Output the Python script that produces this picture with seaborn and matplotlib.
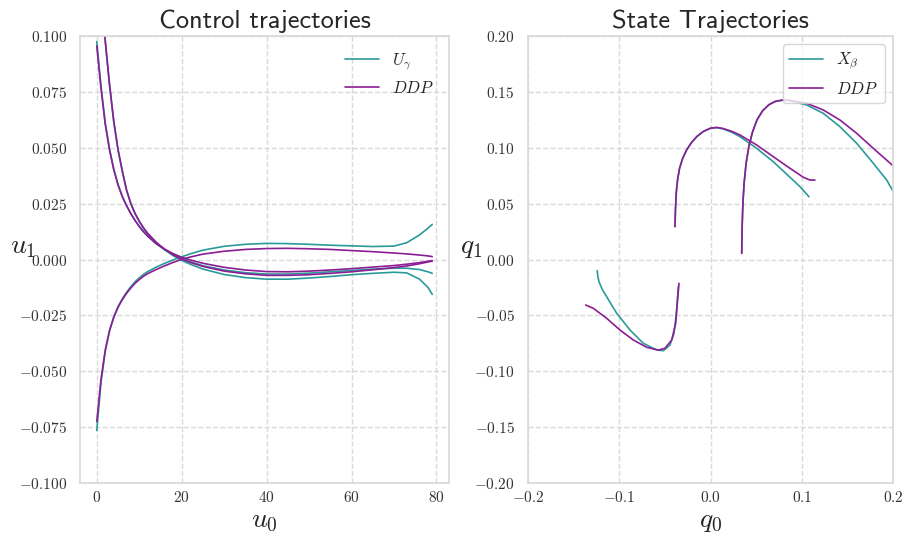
import numpy as np
import pandas as pd
import matplotlib
matplotlib.use("Agg")
import matplotlib.pyplot as plt
import seaborn as sns

# time steps shared by the control trajectories
steps = [0, 1, 2, 3, 4, 5, 6, 7, 8, 9, 10, 11, 12, 14, 16, 18, 20, 22, 25, 30,
         35, 40, 45, 50, 55, 60, 65, 70, 73, 76, 78, 79]

# U_gamma controls
ug_rise = [-0.0765, -0.055, -0.041, -0.032, -0.0258, -0.0212, -0.0176, -0.0147, -0.0122,
           -0.0100, -0.0082, -0.0067, -0.0054, -0.0034, -0.0017, -0.0002, 0.0012, 0.0025,
           0.0042, 0.0059, 0.0068, 0.0072, 0.0071, 0.0068, 0.0064, 0.0061, 0.0058, 0.0060,
           0.0075, 0.0110, 0.0140, 0.0157]
ug_fall_a = [0.0975, 0.0775, 0.0610, 0.0495, 0.0405, 0.0336, 0.0283, 0.0242, 0.0206,
             0.0175, 0.0148, 0.0124, 0.0104, 0.0070, 0.0044, 0.0022, 0.0004, -0.0010,
             -0.0028, -0.0047, -0.0059, -0.0065, -0.0065, -0.0061, -0.0055, -0.0049,
             -0.0043, -0.0039, -0.0039, -0.0045, -0.0055, -0.0062]
ug_fall_b = [0.146, 0.120, 0.0975, 0.0780, 0.0615, 0.0490, 0.0395, 0.0310, 0.0250, 0.0205,
             0.0170, 0.0140, 0.0115, 0.0075, 0.0043, 0.0017, -0.0004, -0.0021, -0.0043,
             -0.0067, -0.0081, -0.0088, -0.0088, -0.0083, -0.0076, -0.0068, -0.0062,
             -0.0057, -0.0060, -0.0088, -0.0125, -0.0156]

# DDP controls
ddp_rise = [-0.0725, -0.0535, -0.0405, -0.0318, -0.0258, -0.0214, -0.0180, -0.0152,
            -0.0128, -0.0107, -0.0090, -0.0075, -0.0063, -0.0045, -0.0028, -0.0013, 0.0001,
            0.0011, 0.0024, 0.0037, 0.0045, 0.0049, 0.0050, 0.0048, 0.0045, 0.0040, 0.0035,
            0.0029, 0.0025, 0.0020, 0.0016, 0.0013]
ddp_fall_a = [0.0955, 0.0765, 0.0605, 0.0490, 0.0402, 0.0334, 0.0282, 0.0241, 0.0206,
              0.0175, 0.0148, 0.0125, 0.0105, 0.0071, 0.0046, 0.0026, 0.0010, -0.0002,
              -0.0017, -0.0035, -0.0047, -0.0054, -0.0055, -0.0052, -0.0047, -0.0041,
              -0.0034, -0.0027, -0.0021, -0.0014, -0.0008, -0.0005]
ddp_fall_b = [0.147, 0.121, 0.098, 0.0785, 0.0620, 0.0493, 0.0398, 0.0312, 0.0252, 0.0207,
              0.0172, 0.0142, 0.0117, 0.0077, 0.0046, 0.0021, 0.0002, -0.0013, -0.0031,
              -0.0052, -0.0064, -0.0071, -0.0071, -0.0068, -0.0062, -0.0055, -0.0046,
              -0.0036, -0.0029, -0.0019, -0.0011, -0.0007]

# state trajectories (q0, q1)
xb_q0_1 = [-0.1241, -0.1235, -0.1222, -0.1185, -0.1138, -0.1028, -0.0882, -0.0736, -0.0590,
           -0.0517, -0.0444, -0.0400, -0.0371, -0.0353]
xb_q1_1 = [-0.0100, -0.0150, -0.0199, -0.0270, -0.0333, -0.0481, -0.0631, -0.0750, -0.0810,
           -0.0816, -0.0765, -0.0661, -0.0452, -0.0240]
ddp_q0_1 = [-0.1368, -0.1284, -0.1138, -0.0992, -0.0846, -0.0699, -0.0572, -0.0499,
            -0.0425, -0.0381, -0.0364, -0.0345]
ddp_q1_1 = [-0.0407, -0.0437, -0.0526, -0.0631, -0.0720, -0.0786, -0.0810, -0.0795,
            -0.0720, -0.0571, -0.0392, -0.0213]

xb_q0_2 = [-0.0389, -0.0384, -0.0375, -0.0360, -0.0338, -0.0305, -0.0262, -0.0210, -0.0150,
           -0.0080, 0.0000, 0.0070, 0.0140, 0.0230, 0.0323, 0.0506, 0.0688, 0.0871, 0.0981,
           0.1079]
xb_q1_2 = [0.0294, 0.0450, 0.0600, 0.0720, 0.0820, 0.0905, 0.0980, 0.1045, 0.1100, 0.1145,
           0.1175, 0.1180, 0.1168, 0.1140, 0.1099, 0.0995, 0.0875, 0.0736, 0.0652, 0.0562]
ddp_q0_2 = [-0.0389, -0.0384, -0.0375, -0.0360, -0.0338, -0.0305, -0.0262, -0.0210, -0.0150,
            -0.0080, 0.0000, 0.0070, 0.0140, 0.0230, 0.0323, 0.0506, 0.0688, 0.0871, 0.1017,
            0.1090, 0.1145]
ddp_q1_2 = [0.0294, 0.0450, 0.0600, 0.0720, 0.0820, 0.0905, 0.0980, 0.1045, 0.1100, 0.1145,
            0.1175, 0.1182, 0.1172, 0.1148, 0.1114, 0.1025, 0.0920, 0.0816, 0.0736, 0.0711,
            0.0711]

xb_q0_3 = [0.0342, 0.0347, 0.0355, 0.0368, 0.0390, 0.0420, 0.0460, 0.0510, 0.0570, 0.0640,
           0.0710, 0.0790, 0.0871, 0.1054, 0.1236, 0.1419, 0.1602, 0.1784, 0.1931, 0.2003,
           0.2060]
xb_q1_3 = [0.0055, 0.0300, 0.0500, 0.0680, 0.0860, 0.1010, 0.1140, 0.1250, 0.1330, 0.1385,
           0.1415, 0.1425, 0.1420, 0.1383, 0.1308, 0.1188, 0.1040, 0.0861, 0.0711, 0.0607,
           0.0540]
ddp_q0_3 = [0.0342, 0.0347, 0.0355, 0.0368, 0.0390, 0.0420, 0.0460, 0.0510, 0.0570, 0.0640,
            0.0710, 0.0790, 0.0871, 0.1054, 0.1236, 0.1419, 0.1602, 0.1784, 0.2003, 0.2060]
ddp_q1_3 = [0.0055, 0.0300, 0.0500, 0.0680, 0.0860, 0.1010, 0.1140, 0.1250, 0.1330, 0.1385,
            0.1415, 0.1427, 0.1425, 0.1398, 0.1338, 0.1248, 0.1129, 0.0995, 0.0837, 0.0800]

TEAL = "#2a9a98"
PURPLE = "#8b1d95"

# build long tables
ctrl_rows = []
for name, vals, traj in [("$U_\\gamma$", ug_rise, 0), ("$U_\\gamma$", ug_fall_a, 1),
                         ("$U_\\gamma$", ug_fall_b, 2), ("$DDP$", ddp_rise, 3),
                         ("$DDP$", ddp_fall_a, 4), ("$DDP$", ddp_fall_b, 5)]:
    ctrl_rows.append(pd.DataFrame({"u0": steps, "u1": vals, "method": name, "traj": traj}))
ctrl = pd.concat(ctrl_rows, ignore_index=True)

state_rows = []
for name, q0, q1, traj in [("$X_\\beta$", xb_q0_1, xb_q1_1, 0), ("$X_\\beta$", xb_q0_2, xb_q1_2, 1),
                           ("$X_\\beta$", xb_q0_3, xb_q1_3, 2), ("$DDP$", ddp_q0_1, ddp_q1_1, 3),
                           ("$DDP$", ddp_q0_2, ddp_q1_2, 4), ("$DDP$", ddp_q0_3, ddp_q1_3, 5)]:
    state_rows.append(pd.DataFrame({"q0": q0, "q1": q1, "method": name, "traj": traj}))
state = pd.concat(state_rows, ignore_index=True)

sns.set_theme(style="whitegrid", rc={"grid.linestyle": "--", "grid.color": ".85",
                                     "axes.edgecolor": ".85"})
plt.rcParams["font.family"] = ["cmr10", "DejaVu Sans"]
plt.rcParams["mathtext.fontset"] = "cm"
plt.rcParams["axes.formatter.use_mathtext"] = True

fig = plt.figure(figsize=(9.09, 5.37), dpi=100)
ax1 = fig.add_axes([80 / 909, 54 / 537, 369 / 909, 447 / 537])
ax2 = fig.add_axes([528 / 909, 54 / 537, 365 / 909, 447 / 537])

sns.lineplot(data=ctrl, x="u0", y="u1", hue="method", units="traj", estimator=None,
             palette={"$U_\\gamma$": TEAL, "$DDP$": PURPLE}, linewidth=1.2, ax=ax1)
ax1.set_xlim(-3.95, 82.95)
ax1.set_ylim(-0.1, 0.1)
ax1.set_xticks([0, 20, 40, 60, 80])
ax1.set_yticks(np.arange(-0.1, 0.1001, 0.025))
ax1.set_title("Control trajectories", fontsize=19, family="cmss10")
ax1.set_xlabel("$u_0$", fontsize=20, labelpad=2)
ax1.set_ylabel("$u_1$", fontsize=20, rotation=0, labelpad=-3)
sns.move_legend(ax1, "upper right", title=None, frameon=False, fontsize=12)

sns.lineplot(data=state, x="q0", y="q1", hue="method", units="traj", estimator=None,
             sort=False, palette={"$X_\\beta$": TEAL, "$DDP$": PURPLE}, linewidth=1.2, ax=ax2)
ax2.set_xlim(-0.2, 0.2)
ax2.set_ylim(-0.2, 0.2)
ax2.set_xticks([-0.2, -0.1, 0.0, 0.1, 0.2])
ax2.set_yticks(np.arange(-0.2, 0.2001, 0.05))
ax2.set_title("State Trajectories", fontsize=19, family="cmss10")
ax2.set_xlabel("$q_0$", fontsize=20, labelpad=2)
ax2.set_ylabel("$q_1$", fontsize=20, rotation=0, labelpad=2)
sns.move_legend(ax2, "upper right", title=None, frameon=True, fontsize=12)

for ax in (ax1, ax2):
    ax.tick_params(labelsize=11, colors=".2")
    ax.tick_params(axis="x", pad=-1)

fig.savefig("out.png", dpi=100)
